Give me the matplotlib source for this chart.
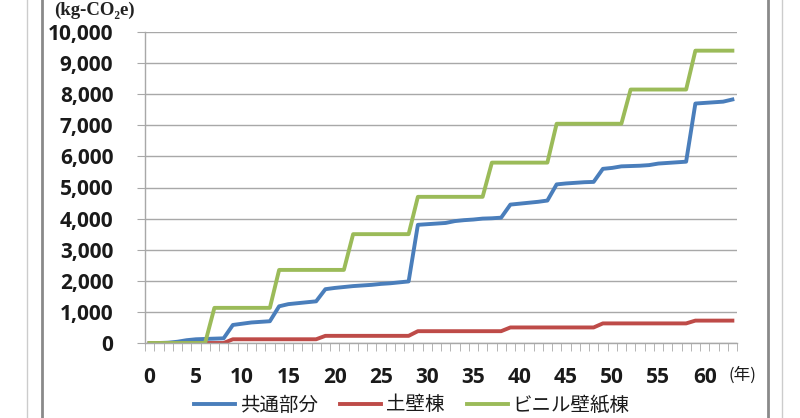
import numpy as np
import matplotlib
matplotlib.use("Agg")
import matplotlib.pyplot as plt
from matplotlib.lines import Line2D

years = list(range(64))
xtick_labels = [str(v) for v in range(0, 61, 5)]
ytick_values = list(range(0, 10001, 1000))
series_names = ["共通部分", "土壁棟", "ビニル壁紙棟"]

common = [0, 0, 10, 40, 90, 120, 130, 140, 150, 580,
          620, 660, 680, 700, 1180, 1250, 1280, 1310, 1340, 1730,
          1770, 1800, 1830, 1850, 1870, 1900, 1920, 1950, 1980, 3800,
          3820, 3840, 3860, 3920, 3950, 3970, 4000, 4010, 4030, 4450,
          4480, 4510, 4540, 4580, 5100, 5130, 5150, 5170, 5180, 5600,
          5630, 5680, 5690, 5700, 5720, 5770, 5790, 5810, 5830, 7700,
          7720, 7740, 7760, 7830]
tsuchikabe = [0] * 9 + [120] * 10 + [230] * 10 + [380] * 10 + [500] * 10 + [630] * 10 + [720] * 5
vinyl = [0] * 7 + [1130] * 7 + [2350] * 8 + [3500] * 7 + [4700] * 8 + [5800] * 7 + [7050] * 8 + [8150] * 7 + [9400] * 5

colors = ["#4a7ebb", "#be4b48", "#9bbb59"]

fig = plt.figure(figsize=(8.0, 4.18), dpi=100)
ax = fig.add_axes([145 / 800, 1 - 343 / 418, (737 - 145) / 800, (343 - 32) / 418])

for vals, name, c in zip([common, tsuchikabe, vinyl], series_names, colors):
    ax.plot(years, vals, color=c, lw=2.8, label=name, solid_joinstyle="round")

ax.set_xlim(-0.5, 63.5)
ax.set_ylim(0, 10000)
ax.set_yticks(ytick_values)
ax.set_yticklabels([f"{v:,}" for v in ytick_values])
ax.set_xticks(list(range(0, 61, 5)))
ax.set_xticklabels(xtick_labels)
ax.set_xticks(np.arange(-0.5, 64, 1), minor=True)

grid_c = "#a8a8a8"
ax.grid(axis="y", color=grid_c, lw=1.0)
ax.set_axisbelow(True)
for s in ["top", "right"]:
    ax.spines[s].set_visible(False)
ax.spines["left"].set_color(grid_c)
ax.spines["bottom"].set_color(grid_c)
ax.spines["left"].set_linewidth(1.0)
ax.spines["bottom"].set_linewidth(1.0)

tick_font = dict(family=["Open Sans", "DejaVu Sans"], weight="bold", size=15)
ax.tick_params(axis="y", which="major", length=5.8, color=grid_c, pad=17, labelcolor="#1a1a1a")
ax.tick_params(axis="x", which="major", length=0, pad=17, labelcolor="#1a1a1a")
ax.tick_params(axis="x", which="minor", length=5.8, color=grid_c)
for lab in ax.get_yticklabels() + ax.get_xticklabels():
    lab.set_fontfamily(tick_font["family"])
    lab.set_fontweight(tick_font["weight"])
    lab.set_fontsize(tick_font["size"])

fig.text(94 / 800, 1 - 10 / 418, "(kg-CO₂e)", family=["Liberation Serif", "DejaVu Serif"],
         weight="bold", size=13.5, ha="center", va="center", color="#222222")
fig.text(742 / 800, 1 - 375 / 418, "(年)", family=["Noto Sans CJK JP", "DejaVu Sans"],
         size=12, ha="center", va="center", color="#1a1a1a")

leg = fig.legend(loc="center", bbox_to_anchor=(412 / 800, 1 - 405 / 418), ncol=3,
                 frameon=False, handlelength=2.1, handletextpad=0.25, columnspacing=1.15,
                 borderpad=0.1,
                 prop={"family": ["Noto Sans CJK JP", "DejaVu Sans"], "size": 14})
for t in leg.get_texts():
    t.set_color("#1a1a1a")

# scanned page frame lines
for x, c, w in [(27, "#cccccc", 1.0), (42, "#8a8a8a", 2.0), (768, "#8a8a8a", 2.0), (782, "#cccccc", 1.0)]:
    fig.add_artist(Line2D([x / 800, x / 800], [0, 1], transform=fig.transFigure, color=c, lw=w))

fig.savefig("out.png", dpi=100)
